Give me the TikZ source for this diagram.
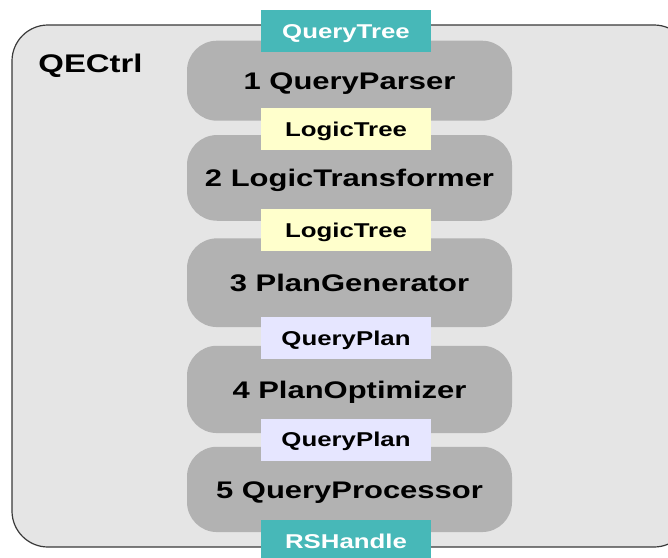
\documentclass[tikz,border=0pt]{standalone}
\usepackage{fontspec}
\setmainfont{Liberation Sans}
\usepackage{graphicx}
\definecolor{ctrlfill}{HTML}{E5E5E5}
\definecolor{ctrlline}{HTML}{3A3A3A}
\definecolor{stagefill}{HTML}{B2B2B2}
\definecolor{iofill}{HTML}{47B8B8}
\definecolor{treefill}{HTML}{FFFFCC}
\definecolor{planfill}{HTML}{E6E6FF}
% horizontally widened bold lettering, boxed to its cap height so it centres on the capitals
\newcommand{\widetext}[2]{{\fontsize{#1}{#1}\selectfont\bfseries
  \raisebox{0pt}[0.716em][0pt]{\scalebox{1.29}[1]{#2}}}}
\tikzset{
  stagebox/.style={rectangle, rounded corners=30pt, fill=stagefill, draw=none,
    minimum width=325pt, inner sep=0pt, text=black},
  databox/.style={rectangle, draw=none, minimum width=170pt, minimum height=42pt,
    inner sep=0pt, text=black},
  iobox/.style={databox, fill=iofill, text=white},
  treebox/.style={databox, fill=treefill},
  planbox/.style={databox, fill=planfill},
}
\begin{document}
\begin{tikzpicture}[x=1pt, y=-1pt]
  \useasboundingbox (0,0) rectangle (668,557);
  \clip (0,0) rectangle (668,557);
  \fill[white] (0,0) rectangle (668,557);

  % controller frame
  \draw[fill=ctrlfill, draw=ctrlline, line width=1.2pt, rounded corners=36pt]
    (12,25) rectangle (690,547);
  \node[anchor=center, inner sep=0pt] (ctrl) at (90.5,63.2) {\widetext{25.5}{QECtrl}};

  % processing stages
  \node[stagebox, minimum height=80pt]   (s1) at (349.5,80.7)  {\widetext{24}{1 QueryParser}};
  \node[stagebox, minimum height=85.7pt] (s2) at (349.5,177.9) {\widetext{24}{2 LogicTransformer}};
  \node[stagebox, minimum height=88.7pt] (s3) at (349.5,282.7) {\widetext{24}{3 PlanGenerator}};
  \node[stagebox, minimum height=87.3pt] (s4) at (349.5,389.4) {\widetext{24}{4 PlanOptimizer}};
  \node[stagebox, minimum height=85.3pt] (s5) at (349.5,489.4) {\widetext{24}{5 QueryProcessor}};

  % data passed between stages
  \node[iobox]   (qtree) at (346,31)    {\widetext{20}{QueryTree}};
  \node[treebox] (lt1)   at (346,128.9) {\widetext{20}{LogicTree}};
  \node[treebox] (lt2)   at (346,229.9) {\widetext{20}{LogicTree}};
  \node[planbox] (qp1)   at (346,338.4) {\widetext{20}{QueryPlan}};
  \node[planbox] (qp2)   at (346,439.5) {\widetext{20}{QueryPlan}};
  \node[iobox]   (rsh)   at (346,541)   {\widetext{20}{RSHandle}};
\end{tikzpicture}
\end{document}
